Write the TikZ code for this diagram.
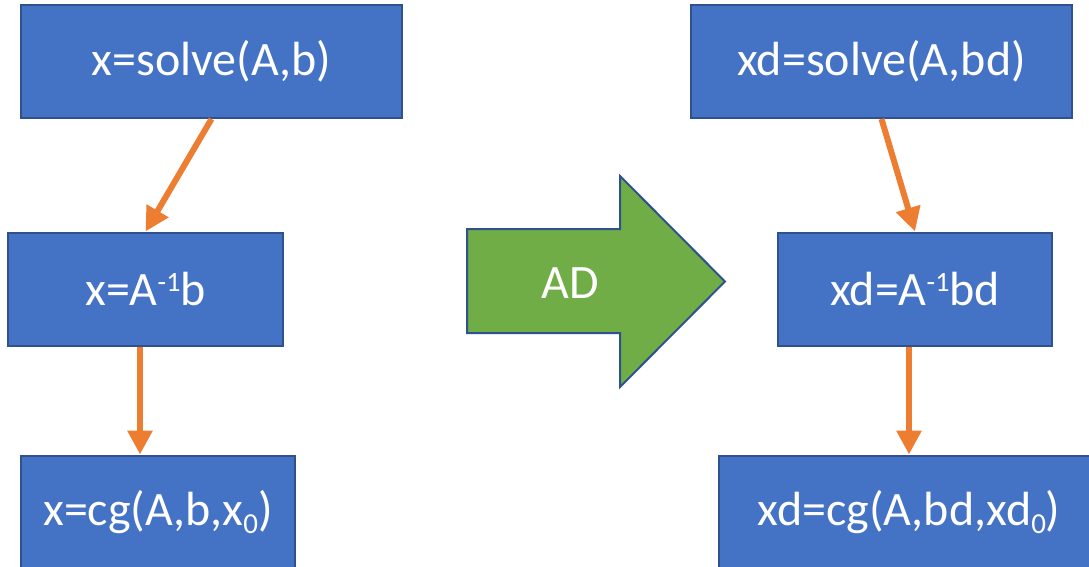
\documentclass[tikz,border=0pt]{standalone}
\usepackage{fontspec}
\setmainfont{Carlito}
\usetikzlibrary{arrows.meta}
\definecolor{boxblue}{HTML}{4472C4}
\definecolor{boxedge}{HTML}{2F528F}
\definecolor{adgreen}{HTML}{70AD47}
\definecolor{conorange}{HTML}{ED7D31}
\newcommand\mysup[1]{\raisebox{0.3em}{\fontsize{28}{28}\selectfont #1}}
\newcommand\mysub[1]{\raisebox{-0.18em}{\fontsize{29}{29}\selectfont #1}}
\tikzset{
  stepbox/.style={draw=boxedge, line width=2pt, fill=boxblue, text=white,
    font=\fontsize{48}{52}\selectfont, inner sep=0pt, minimum height=113pt},
  flowarrow/.style={draw=conorange, line width=6pt,
    -{Triangle[width=24pt,length=24pt]}},
  adarrow/.style={draw=boxedge, line width=2pt, fill=adgreen},
}
\begin{document}
\begin{tikzpicture}[x=1pt,y=-1pt]
\clip (0,0) rectangle (1089,567);
\fill[white] (0,0) rectangle (1089,567);
% left column
\node[stepbox, minimum width=381pt] (b1) at (211.5,61.5) {x=solve(A,b)};
\node[stepbox, minimum width=275pt] (b2) at (145.5,289) {x=A\mysup{-1}b};
\node[stepbox, minimum width=274pt] (b3) at (158,512) {x=cg(A,b,x\mysub{0})};
% right column
\node[stepbox, minimum width=381pt] (b4) at (881.5,61.5) {xd=solve(A,bd)};
\node[stepbox, minimum width=274pt] (b5) at (915,289) {xd=A\mysup{-1}bd};
\node[stepbox, minimum width=380pt] (b6) at (909,512) {xd=cg(A,bd,xd\mysub{0})};
% AD arrow
\draw[adarrow] (467,229) -- (620,229) -- (620,176) -- (725,281.5) -- (620,387)
  -- (620,333) -- (467,333) -- cycle;
\node[text=white, font=\fontsize{48}{52}\selectfont, inner sep=0pt] (ad) at (570,283) {AD};
% connectors
\draw[flowarrow] (b1.south) -- (b2.north);
\draw[flowarrow] ([xshift=-5.5pt]b2.south) -- ([xshift=-5.5pt]b2.south |- b3.north);
\draw[flowarrow] (b4.south) -- (b5.north);
\draw[flowarrow] ([xshift=-6pt]b5.south) -- ([xshift=-6pt]b5.south |- b6.north);
\end{tikzpicture}
\end{document}
